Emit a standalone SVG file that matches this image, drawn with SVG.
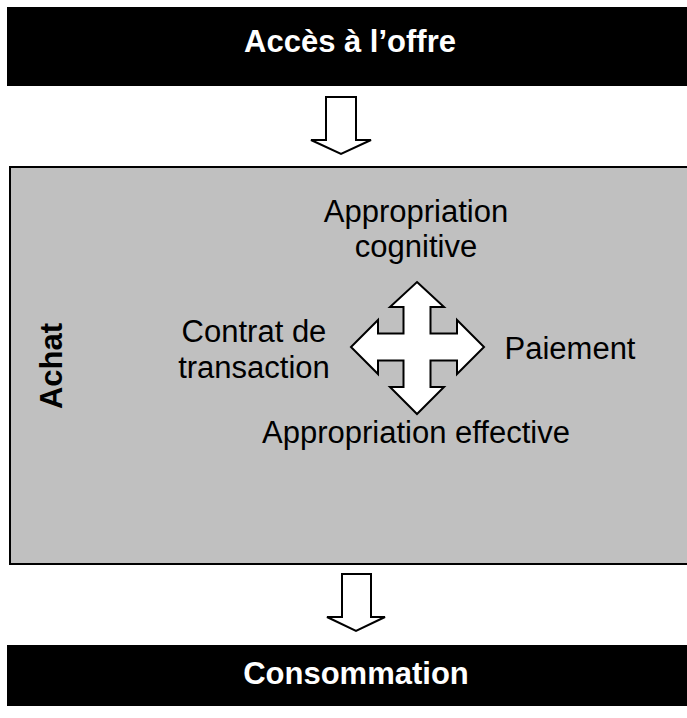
<svg xmlns="http://www.w3.org/2000/svg" width="687" height="718" viewBox="0 0 687 718">
<style>
.bar{fill:#000}
.bt{font-family:"Liberation Sans",Arial,sans-serif;font-weight:bold;font-size:31px;fill:#fff;text-anchor:middle}
.t{font-family:"Liberation Sans",Arial,sans-serif;font-size:31px;fill:#000;text-anchor:middle}
.arr{fill:#fff;stroke:#000;stroke-width:2;stroke-linejoin:miter}
</style>
<rect width="687" height="718" fill="#fff"/>
<g id="acces">
<rect class="bar" x="7" y="7" width="690" height="79"/>
<text class="bt" x="350" y="52">Accès à l’offre</text>
</g>
<g id="achat">
<rect x="10" y="167" width="690" height="397" fill="#c0c0c0" stroke="#000" stroke-width="2"/>
<text class="t" style="font-weight:bold" transform="translate(62,366) rotate(-90)">Achat</text>
<path class="arr" d="M417,282 L444,307 L430.5,307 L430.5,333.5 L457,333.5 L457,320 L484,347 L457,374 L457,360.5 L430.5,360.5 L430.5,387 L444,387 L417,414 L390,387 L403.5,387 L403.5,360.5 L378,360.5 L378,374 L351,347 L378,320 L378,333.5 L403.5,333.5 L403.5,307 L390,307 Z"/>
<text class="t" x="416" y="222">Appropriation</text>
<text class="t" x="416" y="257">cognitive</text>
<text class="t" x="254" y="342">Contrat de</text>
<text class="t" x="254" y="378">transaction</text>
<text class="t" x="570" y="359">Paiement</text>
<text class="t" x="416" y="443">Appropriation effective</text>
</g>
<g id="consommation">
<rect class="bar" x="7" y="645" width="690" height="61"/>
<text class="bt" x="356" y="684">Consommation</text>
</g>
<g id="connectors">
<path class="arr" d="M326,97 L356,97 L356,140 L371,140 L341,154 L311,140 L326,140 Z"/>
<path class="arr" d="M342,574 L371,574 L371,617 L385,617 L356,631 L327,617 L342,617 Z"/>
</g>
</svg>
